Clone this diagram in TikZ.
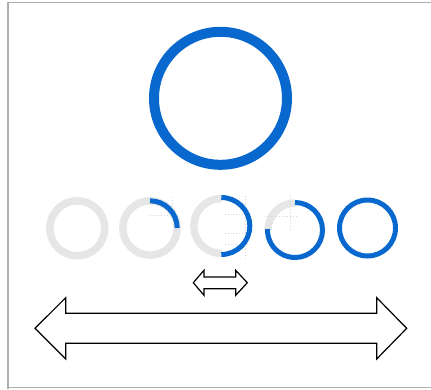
\documentclass[tikz,border=0pt]{standalone}
\begin{document}
\begin{tikzpicture}[x=1pt,y=-1pt,
  track/.style={draw=ringgray,line width=7.5pt},
  prog/.style={draw=accent,line width=5pt},
  guide/.style={draw=guidegray,line width=0.8pt,dotted},
  arrowshape/.style={draw=black,line width=1.2pt,fill=white,line join=miter}]
\definecolor{accent}{RGB}{8,104,206}
\definecolor{ringgray}{RGB}{230,230,230}
\definecolor{guidegray}{RGB}{215,215,215}
\definecolor{framegray}{RGB}{175,175,175}
\useasboundingbox (0,0) rectangle (431,389);
% frame
\draw[framegray,line width=1.2pt] (8,389) -- (8,2.5) -- (431,2.5);
\draw[framegray,line width=1.2pt] (8,387.5) -- (431,387.5);
% big ring
\coordinate (big) at (220.5,98.3);
\draw[accent,line width=10pt] (big) circle (66.5);
% small rings (y axis points down: angle -90 is the top)
\coordinate (c1) at (77.3,228.3);
\coordinate (c2) at (150,228);
\coordinate (c3) at (221.3,226);
\coordinate (c4) at (295,230);
\coordinate (c5) at (367.5,228);
% 1: empty
\draw[track] (c1) circle (27.5);
% 2: quarter
\draw[guide] (150,215) -- (173,215);
\draw[guide] (172.7,197) -- (172.7,215);
\draw[track] (c2) circle (27.2);
\draw[prog] (c2) ++(-90:27.2) arc[start angle=-90,end angle=0,radius=27.2];
% 3: half
\draw[track] (c3) ++(90:27.5) arc[start angle=90,end angle=270,radius=27.5];
\draw[guide] (225,214) -- (245,214);
\draw[guide] (225,233.3) -- (250,233.3);
\draw[guide] (225,244) -- (250,244);
\draw[guide] (245.7,196) -- (245.7,258);
\draw[prog] (c3) ++(-90:28.5) arc[start angle=-90,end angle=90,radius=28.5];
% 4: three quarters
\draw[track] (c4) ++(180:27) arc[start angle=180,end angle=270,radius=27];
\draw[guide] (290,195) -- (290,230);
\draw[guide] (265,216.7) -- (297,216.7);
\draw[prog] (c4) ++(-90:27.5) arc[start angle=-90,end angle=182,radius=27.5];
% 5: full
\draw[prog] (c5) circle (28);
% small double arrow
\coordinate (sa) at (193.3,282.7);
\draw[arrowshape] (sa) -- (204,270.3) -- (204,277) -- (235.7,277) -- (235.7,270.3)
  -- (247.3,282.7) -- (235.7,295.3) -- (235.7,288.7) -- (204,288.7) -- (204,295.3) -- cycle;
% big double arrow
\coordinate (ba) at (35,328.3);
\draw[arrowshape] (ba) -- (65.7,297.7) -- (65.7,313.3) -- (376.7,313.3) -- (376.7,297.7)
  -- (406.7,328.3) -- (376.7,359) -- (376.7,343.3) -- (65.7,343.3) -- (65.7,359) -- cycle;
\end{tikzpicture}
\end{document}
